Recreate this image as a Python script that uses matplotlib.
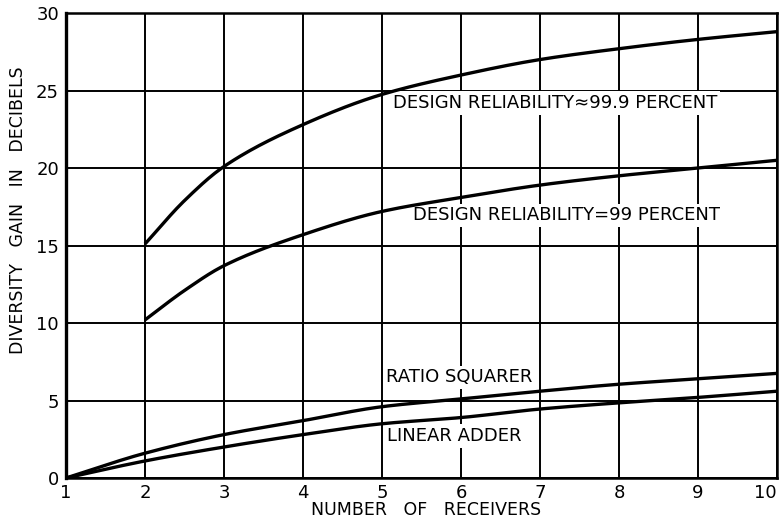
import matplotlib
matplotlib.use("Agg")
import matplotlib.pyplot as plt
import numpy as np

# Number of receivers
receivers_all = [1, 2, 3, 4, 5, 6, 7, 8, 9, 10]
receivers_from2 = [2, 2.5, 3, 4, 5, 6, 7, 8, 9, 10]

# Diversity gain (dB)
gain_999 = [15.1, 17.9, 20.1, 22.8, 24.75, 26.0, 27.0, 27.7, 28.3, 28.8]
gain_99 = [10.2, 12.1, 13.7, 15.7, 17.2, 18.1, 18.9, 19.5, 20.0, 20.5]
gain_ratio = [0.0, 1.6, 2.8, 3.7, 4.6, 5.1, 5.6, 6.05, 6.4, 6.75]
gain_linear = [0.0, 1.1, 2.0, 2.8, 3.5, 3.9, 4.45, 4.85, 5.2, 5.6]

x_ticks = [1, 2, 3, 4, 5, 6, 7, 8, 9, 10]
x_tick_labels = ["1", "2", "3", "4", "5", "6", "7", "8", "9", "10"]
y_ticks = [0, 5, 10, 15, 20, 25, 30]
y_tick_labels = ["0", "5", "10", "15", "20", "25", "30"]

labels = ["DESIGN RELIABILITY\u224899.9 PERCENT",
          "DESIGN RELIABILITY=99 PERCENT",
          "RATIO SQUARER",
          "LINEAR ADDER"]
label_pos = [(5.14, 24.2), (5.39, 16.95), (5.05, 6.5), (5.06, 2.7)]

plt.rcParams["font.family"] = ["DejaVu Sans"]

fig = plt.figure(figsize=(7.82, 5.22), dpi=100)
ax = fig.add_axes([0.0844, 0.0843, 0.9092, 0.8907])

def smooth(xs, ys, n=200):
    xs = np.asarray(xs, float)
    ys = np.asarray(ys, float)
    xx = np.linspace(xs[0], xs[-1], n)
    # monotone cubic (PCHIP-like) interpolation through the read points
    h = np.diff(xs)
    d = np.diff(ys) / h
    m = np.zeros_like(ys)
    m[0] = d[0]
    m[-1] = d[-1]
    for i in range(1, len(xs) - 1):
        if d[i - 1] * d[i] > 0:
            w1 = 2 * h[i] + h[i - 1]
            w2 = h[i] + 2 * h[i - 1]
            m[i] = (w1 + w2) / (w1 / d[i - 1] + w2 / d[i])
    idx = np.clip(np.searchsorted(xs, xx) - 1, 0, len(xs) - 2)
    t = (xx - xs[idx]) / h[idx]
    h00 = 2 * t**3 - 3 * t**2 + 1
    h10 = t**3 - 2 * t**2 + t
    h01 = -2 * t**3 + 3 * t**2
    h11 = t**3 - t**2
    yy = h00 * ys[idx] + h10 * h[idx] * m[idx] + h01 * ys[idx + 1] + h11 * h[idx] * m[idx + 1]
    return xx, yy

for xs, ys in [(receivers_from2, gain_999), (receivers_from2, gain_99),
               (receivers_all, gain_ratio), (receivers_all, gain_linear)]:
    sx, sy = smooth(xs, ys)
    ax.plot(sx, sy, color="black", lw=2.4, solid_capstyle="butt", zorder=5)

ax.set_xlim(1, 10)
ax.set_ylim(0, 30)
ax.set_xticks(x_ticks)
ax.set_xticklabels(x_tick_labels)
ax.set_yticks(y_ticks)
ax.set_yticklabels(y_tick_labels)
ax.tick_params(length=0, labelsize=13)
ax.tick_params(axis="x", pad=4)
ax.tick_params(axis="y", pad=5)
ax.get_xticklabels()[-1].set_horizontalalignment("right")

ax.grid(True, color="black", lw=1.4)
ax.set_axisbelow(True)
for side in ["left", "right", "top", "bottom"]:
    ax.spines[side].set_linewidth(1.8)
ax.spines["left"].set_linewidth(2.4)

for text, (tx, ty) in zip(labels, label_pos):
    ax.text(tx, ty, text, fontsize=13, ha="left", va="center", zorder=4,
            bbox=dict(facecolor="white", edgecolor="none", pad=2.0))

fig.text(426 / 782, 1 - 510 / 522, "NUMBER   OF   RECEIVERS", fontsize=12.5,
         ha="center", va="center")
fig.text(18 / 782, 1 - 210 / 522, "DIVERSITY   GAIN   IN   DECIBELS", fontsize=12.5,
         ha="center", va="center", rotation=90)

fig.savefig("out.png", dpi=100, facecolor="white")
